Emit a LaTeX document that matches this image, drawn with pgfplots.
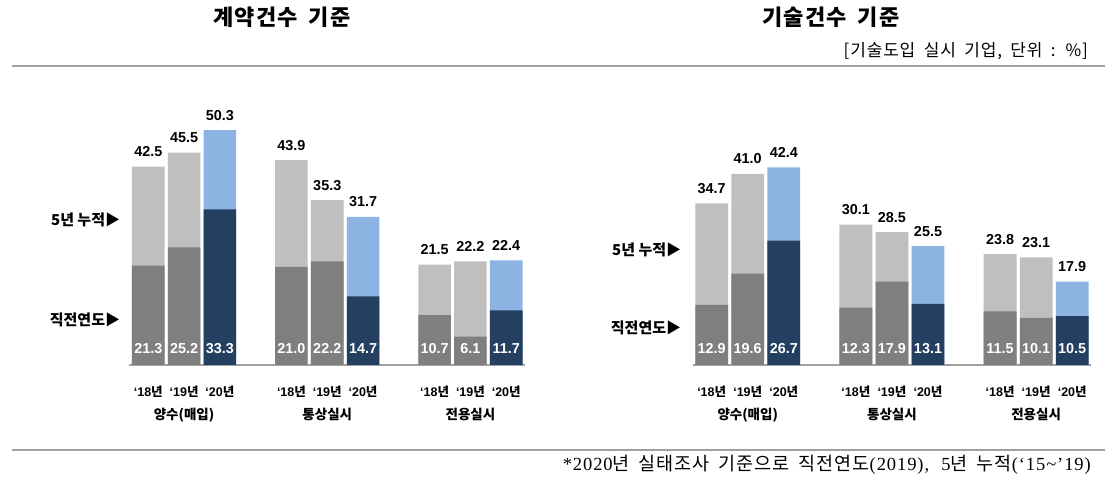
\documentclass[border=0pt]{standalone}
\usepackage{fontspec}
\setmainfont{Liberation Sans}
\newfontfamily\kr{Noto Sans CJK KR}
\newfontfamily\krw{Noto Sans CJK KR}[WordSpace=2.2, LetterSpace=5]
\newfontfamily\krt{Noto Sans CJK KR}[WordSpace=1.8, LetterSpace=5]
\newfontfamily\serifw{Liberation Serif}[WordSpace=2.2, LetterSpace=5]
\usepackage{pgfplots}
\pgfplotsset{compat=1.18}

\definecolor{lgray}{HTML}{BFBFBF}
\definecolor{dgray}{HTML}{7F7F7F}
\definecolor{lblue}{HTML}{8DB3E2}
\definecolor{navy}{HTML}{243F60}
\definecolor{rulec}{HTML}{A0A0A0}

\newcommand{\yr}[1]{{\bfseries ‘#1}{\kr\bfseries 년}}

\pgfplotsset{
  panel/.style={scale only axis, height=261.5pt, ymin=0, ymax=56,
    axis x line*=bottom, axis y line=none, clip=false,
    x axis line style={draw=rulec, line width=1.5pt, -},
    xtick={0,1,2,4,5,6,8,9,10},
    xticklabels={\yr{18},\yr{19},\yr{20},\yr{18},\yr{19},\yr{20},\yr{18},\yr{19},\yr{20}},
    major tick length=0pt,
    xticklabel style={anchor=base, yshift=-32pt, inner sep=0pt, font=\fontsize{12.5}{13}\selectfont},
    /pgf/number format/fixed, /pgf/number format/fixed zerofill,
    /pgf/number format/precision=1, /pgf/number format/assume math mode=true},
  tot/.style={ybar, bar shift=0pt, bar width=0.91, draw=none, fill=#1,
    nodes near coords,
    every node near coord/.append style={anchor=base, yshift=10pt, inner sep=0pt,
      font=\fontsize{14.4}{15}\selectfont\bfseries, text=black}},
  low/.style={ybar, bar shift=0pt, bar width=0.91, draw=none, fill=#1},
  lab/.style={ybar, bar shift=0pt, bar width=0.91, draw=none, fill=none,
    point meta=explicit, nodes near coords,
    every node near coord/.append style={anchor=base, yshift=11pt, inner sep=0pt,
      font=\fontsize{14.4}{15}\selectfont\bfseries, text=white}},
}
\tikzset{
  ylab/.style={anchor=east, inner sep=0pt, font=\kr\bfseries\fontsize{15}{16}\selectfont},
  grp/.style={anchor=base, inner sep=0pt, yshift=-55pt, font=\kr\bfseries\fontsize{13.5}{14}\selectfont},
}

\begin{document}
\begin{tikzpicture}[x=1pt, y=1pt]
\path[use as bounding box] (0pt,0pt) rectangle (1112pt,484pt);

% left panel: 계약건수 기준
\begin{axis}[panel, at={(129.3pt,119pt)}, anchor=south west, width=395.2pt, xmin=-0.53, xmax=10.51]
\addplot[tot=lgray] coordinates {(0,42.5)(1,45.5)(4,43.9)(5,35.3)(8,21.5)(9,22.2)};
\addplot[tot=lblue] coordinates {(2,50.3)(6,31.7)(10,22.4)};
\addplot[low=dgray] coordinates {(0,21.3)(1,25.2)(4,21.0)(5,22.2)(8,10.7)(9,6.1)};
\addplot[low=navy] coordinates {(2,33.3)(6,14.7)(10,11.7)};
\addplot[lab] coordinates {(0,0)[21.3](1,0)[25.2](2,0)[33.3](4,0)[21.0](5,0)[22.2](6,0)[14.7](8,0)[10.7](9,0)[6.1](10,0)[11.7]};
\node[ylab] at (axis cs:-0.53,31.0) [xshift=-9pt] {5년 누적▶};
\node[ylab] at (axis cs:-0.53,9.6) [xshift=-9pt] {직전연도▶};
\node[grp] at (axis cs:1,0) {양수(매입)};
\node[grp] at (axis cs:5,0) {통상실시};
\node[grp] at (axis cs:9,0) {전용실시};
\end{axis}

% right panel: 기술건수 기준
\begin{axis}[panel, at={(693.3pt,119pt)}, anchor=south west, width=397.3pt, xmin=-0.51, xmax=10.51, height=261pt]
\addplot[tot=lgray] coordinates {(0,34.7)(1,41.0)(4,30.1)(5,28.5)(8,23.8)(9,23.1)};
\addplot[tot=lblue] coordinates {(2,42.4)(6,25.5)(10,17.9)};
\addplot[low=dgray] coordinates {(0,12.9)(1,19.6)(4,12.3)(5,17.9)(8,11.5)(9,10.1)};
\addplot[low=navy] coordinates {(2,26.7)(6,13.1)(10,10.5)};
\addplot[lab] coordinates {(0,0)[12.9](1,0)[19.6](2,0)[26.7](4,0)[12.3](5,0)[17.9](6,0)[13.1](8,0)[11.5](9,0)[10.1](10,0)[10.5]};
\node[ylab] at (axis cs:-0.51,24.7) [xshift=-12pt] {5년 누적▶};
\node[ylab] at (axis cs:-0.51,7.9) [xshift=-12pt] {직전연도▶};
\node[grp] at (axis cs:1,0) {양수(매입)};
\node[grp] at (axis cs:5,0) {통상실시};
\node[grp] at (axis cs:9,0) {전용실시};
\end{axis}

% titles, unit, rules, footnote
\node[anchor=base, inner sep=0pt, font=\krt\bfseries\fontsize{22}{24}\selectfont] at (282pt,458.5pt) {계약건수 기준};
\node[anchor=base, inner sep=0pt, font=\krt\bfseries\fontsize{22}{24}\selectfont] at (831pt,458.5pt) {기술건수 기준};
\node[anchor=base east, inner sep=0pt, font=\krw\fontsize{17}{18}\selectfont] at (1088pt,427pt) {[기술도입 실시 기업, 단위 : \%]};
\draw[rulec, line width=1.5pt] (12pt,418pt) -- (1105pt,418pt);
\draw[rulec, line width=1.5pt] (12pt,34pt) -- (1105pt,34pt);
\node[anchor=base east, inner sep=0pt, font=\fontsize{18.5}{20}\selectfont] at (1091pt,13pt)
  {{\serifw *2020}{\krw 년 실태조사 기준으로 직전연도}{\serifw (2019), 5}{\krw 년 누적}{\serifw (‘15\textasciitilde’19)}};
\end{tikzpicture}
\end{document}
